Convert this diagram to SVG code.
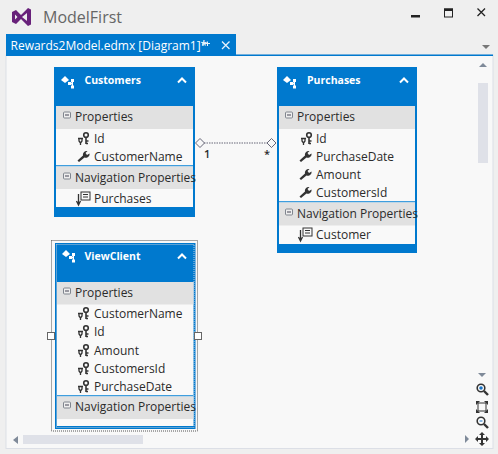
<svg xmlns="http://www.w3.org/2000/svg" width="498" height="454" viewBox="0 0 498 454">
<style>
text{font-family:"Open Sans","Noto Sans","Liberation Sans",sans-serif;fill:#2b2b2b;font-size:12px}
.hd{fill:#0079ce}.wh{fill:#f9f9f9}.band{fill:#e1e1e1}.div{fill:#3f9ede}
.title{fill:#fff;font-weight:700;font-size:10.5px}
.ic{fill:#333}.arr{fill:#7f8a99}
</style>
<defs>
<g id="ent"><path d="M0 -2 L4 -6 L8 -2 L4 1Z" fill="#fff"/><rect x="7" y="0" width="3.500" height="3" fill="#fff"/><rect x="10" y="-3" width="3" height="3" fill="#fff"/><rect x="10" y="3.500" width="3" height="3" fill="#fff"/><path d="M8.500 1.500H11.500M11.500 -1V5" stroke="#fff" fill="none"/></g>
<path id="chev" d="M-4 2.500 L0 -1.500 L4 2.500" fill="none" stroke="#fff" stroke-width="2"/>
<g id="minus"><rect x="-3.500" y="-3" width="7" height="6" rx="1" fill="#eee" stroke="#80868f"/><path d="M-2 0H2" stroke="#445" stroke-width="1"/></g>
<g id="key"><circle cx="4" cy="-3" r="2.300" fill="none" stroke="#333" stroke-width="1.600"/><path d="M4 -1V6M4 3H6.500M4 5.500H6" stroke="#333" stroke-width="1.600" fill="none"/><path d="M-4 0.500H1M-3 0.500V3L-1.500 5V7M0 0.500V3L-1.500 5" stroke="#333" stroke-width="1.300" fill="none"/></g>
<path id="wr" d="M-5 6 L-6.500 4.500 L-1 -0.500 C-1.500 -3 0.500 -5.500 3.500 -5 L1.500 -3 L3 -1 L5.500 -2.500 C6 0.500 3 2.500 0.500 1.500Z" class="ic"/>
<g id="nav"><rect x="-2" y="-6" width="9" height="8" fill="none" stroke="#333"/><path d="M0 -3.500H5M0 -1H5" stroke="#333"/><path d="M-4.500 -4V7M-6.500 3 L-4.500 7 L-2.500 3" fill="none" stroke="#333" stroke-width="1.300"/></g>
<g id="mag"><circle cx="-1" cy="-1" r="3.800" fill="#fff" stroke="#333" stroke-width="1.600"/><path d="M2 2L6 6" stroke="#333" stroke-width="2.400"/></g>
</defs>
<rect width="498" height="454" fill="#efefef"/>
<g id="window">
<path d="M12 12 L16 10 L21 15 L28 8 L31 9.500 V24.500 L28 26 L21 19 L16 24 L12 22Z M15 14.500 V19.500 L17.500 17Z M22 17 L27 21 V13Z" fill="#68217a" fill-rule="evenodd"/>
<text x="43" y="23" style="font-size:16px;fill:#666">ModelFirst</text>
<rect x="411" y="15" width="9" height="2.500" fill="#222"/>
<rect x="444.500" y="9" width="8" height="8" fill="none" stroke="#222"/><rect x="444" y="8.500" width="9" height="2.500" fill="#222"/>
<path d="M477.500 8.500 L485 16M485 8.500 L477.500 16" stroke="#222" stroke-width="1.300"/>
<path d="M482 45H490L486 49Z" fill="#777"/>
<rect x="6" y="55" width="487" height="393.500" fill="#f8f8f8" stroke="#dcdfe6"/>
<rect x="6" y="34" width="230" height="21" fill="#0079ce"/>
<rect x="6" y="54.500" width="487" height="1.500" fill="#0079ce"/>
<text x="10.500" y="50" style="fill:#fff;font-size:12px">Rewards2Model.edmx [Diagram1]*</text>
<path d="M204 43.500H210M207.500 41.500V46M204 42H203V46M203.500 44H202" stroke="#e8f2fb" fill="none"/>
<path d="M222 41.500 L229.500 49M229.500 41.500 L222 49" stroke="#e8f2fb" stroke-width="1.300"/>
<path d="M479 67H487L483 63Z" class="arr"/>
<rect x="478" y="83" width="10" height="80" fill="#dfe1e8"/>
<path d="M478 373H486L482 377Z" class="arr"/>
<rect x="23" y="435" width="120" height="9" fill="#dfe1e8"/>
<path d="M18 436V444L13 440Z" class="arr"/>
<path d="M465 435V443L469 439Z" class="arr"/>
<use href="#mag" x="482" y="389"/><circle cx="481" cy="388" r="1.800" fill="#1b73c4"/>
<g fill="none" stroke="#333"><rect x="478" y="403" width="8" height="8"/></g>
<path d="M476 401H480L476 405ZM488 401H484L488 405ZM476 413H480L476 409ZM488 413H484L488 409Z" fill="#333"/>
<use href="#mag" x="482" y="422"/><path d="M479.500 421H482.500" stroke="#1b73c4"/>
<path d="M482 432L485 435H483V438H486V436L489 439L486 442V440H483V443H485L482 446L479 443H481V440H478V442L475 439L478 436V438H481V435H479Z" fill="#333"/>
</g>
<g id="connectors">
<path d="M204 143H267" stroke="#667" stroke-dasharray="1.500 1" fill="none"/>
<path d="M195.500 143L200 138.500L204.500 143L200 147.500Z M267 143L271.500 138.500L276 143L271.500 147.500Z" fill="#f8f8f8" stroke="#667"/>
<text x="204" y="158" style="font-size:11px;font-weight:600">1</text>
<text x="264" y="158" style="font-size:11px;font-weight:600">*</text>
</g>
<g id="customers">
<rect x="54" y="67" width="141" height="150" class="hd"/>
<rect x="56" y="106" width="137" height="101" class="wh"/>
<rect x="56" y="106" width="137" height="23" class="band"/>
<rect x="56" y="165" width="137" height="1.500" class="div"/>
<rect x="56" y="166.500" width="137" height="22.500" class="band"/>
<use href="#ent" x="61" y="82"/><text x="84.500" y="84" class="title">Customers</text><use href="#chev" x="182" y="80"/>
<use href="#minus" x="67" y="115"/><text x="75" y="121">Properties</text>
<use href="#key" x="82" y="138"/><text x="94" y="142.500">Id</text>
<use href="#wr" x="84" y="156"/><text x="94" y="161">CustomerName</text>
<use href="#minus" x="67" y="176"/><text x="75" y="182">Navigation Properties</text>
<use href="#nav" x="83" y="198"/><text x="94" y="203">Purchases</text>
</g>
<g id="purchases">
<rect x="277" y="67" width="140" height="186" class="hd"/>
<rect x="279" y="106" width="136" height="138" class="wh"/>
<rect x="279" y="106" width="136" height="23" class="band"/>
<rect x="279" y="201" width="136" height="1.500" class="div"/>
<rect x="279" y="202.500" width="136" height="23" class="band"/>
<use href="#ent" x="283" y="82"/><text x="307" y="84" class="title">Purchases</text><use href="#chev" x="404" y="80"/>
<use href="#minus" x="289" y="115"/><text x="297" y="121">Properties</text>
<use href="#key" x="305" y="138"/><text x="316" y="142.500">Id</text>
<use href="#wr" x="306" y="156"/><text x="316" y="161">PurchaseDate</text>
<use href="#wr" x="306" y="174"/><text x="316" y="179">Amount</text>
<use href="#wr" x="306" y="192"/><text x="316" y="197">CustomersId</text>
<use href="#minus" x="289" y="212"/><text x="297" y="218">Navigation Properties</text>
<use href="#nav" x="305" y="234"/><text x="316" y="239">Customer</text>
</g>
<g id="viewclient">
<rect x="51.500" y="240.500" width="146" height="190.500" fill="none" stroke="#555" stroke-dasharray="1 1"/>
<rect x="55" y="243" width="140.500" height="186" class="hd"/>
<rect x="57" y="282" width="136.500" height="144" class="wh"/>
<rect x="57" y="282" width="136.500" height="22.500" class="band"/>
<rect x="57" y="395" width="136.500" height="1.500" class="div"/>
<rect x="57" y="396.500" width="136.500" height="22.500" class="band"/>
<rect x="56.500" y="244.500" width="137.500" height="183" fill="none" stroke="#bcd" stroke-dasharray="1 1"/>
<use href="#ent" x="62" y="256"/><text x="84.500" y="260" class="title">ViewClient</text><use href="#chev" x="182" y="256"/>
<use href="#minus" x="67" y="291"/><text x="75" y="297">Properties</text>
<use href="#key" x="82" y="313"/><text x="94" y="318">CustomerName</text>
<use href="#key" x="82" y="331"/><text x="94" y="336">Id</text>
<use href="#key" x="82" y="350"/><text x="94" y="355">Amount</text>
<use href="#key" x="82" y="368"/><text x="94" y="373">CustomersId</text>
<use href="#key" x="82" y="386"/><text x="94" y="391">PurchaseDate</text>
<use href="#minus" x="67" y="405"/><text x="75" y="411">Navigation Properties</text>
<rect x="47.500" y="332.500" width="7" height="7" fill="#fff" stroke="#666"/>
<rect x="194.500" y="332.500" width="7" height="7" fill="#fff" stroke="#666"/>
</g>
</svg>
